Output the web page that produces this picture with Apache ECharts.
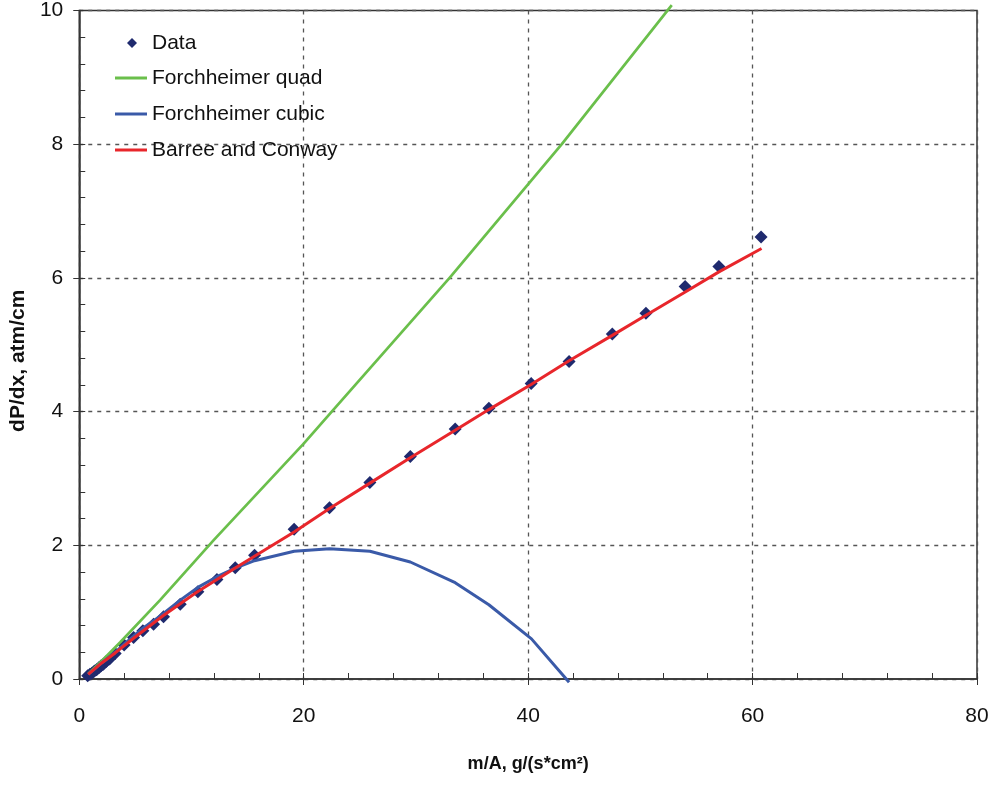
<!DOCTYPE html>
<html>
<head>
<meta charset="utf-8">
<script src="https://cdn.jsdelivr.net/npm/echarts@6/dist/echarts.min.js"></script>
<style>html,body{margin:0;padding:0;background:#fff}#c{width:993px;height:787px}</style>
</head>
<body>
<div id="c"></div>
<script>
// ---- data ----
var dataX = [0.75,0.95,1.15,1.35,1.55,1.75,1.95,2.15,2.4,2.7,3.2,4.0,4.84,5.67,6.62,7.51,9.0,10.57,12.27,13.9,15.62,19.15,22.3,25.9,29.5,33.5,36.5,40.27,43.65,47.5,50.5,53.99,57.0,60.76];
var dataY = [0.05,0.07,0.09,0.12,0.14,0.17,0.2,0.22,0.26,0.3,0.38,0.51,0.62,0.72,0.82,0.93,1.12,1.305,1.49,1.664,1.853,2.24,2.56,2.94,3.33,3.74,4.05,4.42,4.75,5.16,5.47,5.87,6.17,6.61];

var quadX = [0.8,2.0,3.65,7.2,12,20,22.5,33,43,52.8];
var quadY = [0.08,0.27,0.55,1.18,2.08,3.52,4.0,6.0,8.0,10.08];

var cubicX = [0.8,2.0,3.2,4.0,4.84,5.67,6.62,7.51,9.0,10.57,12.27,13.9,15.62,19.15,22.3,25.9,29.5,33.5,36.5,40.3,43.65];
var cubicY = [0.07,0.24,0.4,0.52,0.64,0.76,0.87,0.98,1.18,1.37,1.53,1.66,1.77,1.91,1.95,1.91,1.75,1.44,1.11,0.6,-0.05];

var bcX = [0.8,2.0,3.2,4.84,7.5,10.5,13.9,19.15,22.3,25.9,29.5,33.5,36.5,40.3,43.65,47.5,50.5,54.0,57.0,60.8];
var bcY = [0.07,0.24,0.39,0.61,0.95,1.3,1.66,2.2,2.55,2.93,3.31,3.72,4.03,4.41,4.76,5.14,5.44,5.79,6.09,6.44];

var seriesNames = ['Data','Forchheimer quad','Forchheimer cubic','Barree and Conway'];
var xTitle = 'm/A, g/(s*cm\u00B2)';
var yTitle = 'dP/dx, atm/cm';

function zip(a,b){return a.map(function(v,i){return [v,b[i]];});}

var FONT = 'Liberation Sans, Arial, sans-serif';
var DATA_COLOR = '#1f2a6e', QUAD_COLOR = '#6abf4b', CUBIC_COLOR = '#3a5aa8', BC_COLOR = '#e8262b';
var chart = echarts.init(document.getElementById('c'));
var gridDash = {color:'#555', width:1.3, type:[4,5]};
var legendText = {fontFamily:FONT,fontSize:21,lineHeight:22,color:'#111'};
chart.setOption({
  animation:false,
  backgroundColor:'#fff',
  grid:{left:79,right:16,top:10,bottom:108,show:true,borderColor:'#333',borderWidth:1.5,backgroundColor:'transparent'},
  legend:[{
    left:122, top:27, orient:'vertical', itemWidth:10, itemHeight:10, icon:'diamond',
    textStyle:{fontFamily:FONT,fontSize:21,lineHeight:22,color:'#111',padding:[0,0,0,10]},
    data:[seriesNames[0]]
  },{
    left:110, top:62, orient:'vertical', itemWidth:32, itemHeight:3, itemGap:14, icon:'rect',
    textStyle:legendText,
    data:[seriesNames[1],seriesNames[2],seriesNames[3]]
  }],
  xAxis:[{
    type:'value', min:0, max:80, interval:20,
    name:xTitle, nameLocation:'middle', nameGap:76,
    nameTextStyle:{fontFamily:FONT,fontSize:18,fontWeight:'bold',color:'#111'},
    axisLine:{onZero:false,lineStyle:{color:'#333',width:1.5}},
    axisTick:{inside:true,length:6,lineStyle:{color:'#333'}},
    minorTick:{show:true,splitNumber:5,length:6,lineStyle:{color:'#333'}},
    axisLabel:{margin:27,fontFamily:FONT,fontSize:21,color:'#111'},
    splitLine:{show:true,lineStyle:gridDash}
  },{
    type:'value', min:0, max:80, interval:20, position:'bottom',
    axisLine:{show:false}, axisTick:{show:true,inside:false,length:6,lineStyle:{color:'#333'}},
    axisLabel:{show:false}, splitLine:{show:false}
  }],
  yAxis:[{
    type:'value', min:0, max:10, interval:2,
    name:yTitle, nameLocation:'middle', nameGap:48,
    nameTextStyle:{fontFamily:FONT,fontSize:21,fontWeight:'bold',color:'#111',padding:[0,32,0,0]},
    axisLine:{onZero:false,lineStyle:{color:'#333',width:1.5}},
    axisTick:{inside:true,length:6,lineStyle:{color:'#333'}},
    minorTick:{show:true,splitNumber:5,length:6,lineStyle:{color:'#333'}},
    axisLabel:{margin:16,fontFamily:FONT,fontSize:21,color:'#111'},
    splitLine:{show:true,lineStyle:gridDash}
  },{
    type:'value', min:0, max:10, interval:2, position:'left',
    axisLine:{show:false}, axisTick:{show:true,inside:false,length:6,lineStyle:{color:'#333'}},
    axisLabel:{show:false}, splitLine:{show:false}
  }],
  series:[
    {name:seriesNames[0],type:'scatter',symbol:'diamond',symbolSize:13,itemStyle:{color:DATA_COLOR,opacity:1},data:zip(dataX,dataY)},
    {name:seriesNames[1],type:'line',symbol:'none',clip:false,lineStyle:{color:QUAD_COLOR,width:2.7},itemStyle:{color:QUAD_COLOR},data:zip(quadX,quadY)},
    {name:seriesNames[2],type:'line',symbol:'none',clip:false,lineStyle:{color:CUBIC_COLOR,width:3},itemStyle:{color:CUBIC_COLOR},data:zip(cubicX,cubicY)},
    {name:seriesNames[3],type:'line',symbol:'none',clip:false,lineStyle:{color:BC_COLOR,width:3},itemStyle:{color:BC_COLOR},data:zip(bcX,bcY)}
  ]
});
</script>
</body>
</html>
